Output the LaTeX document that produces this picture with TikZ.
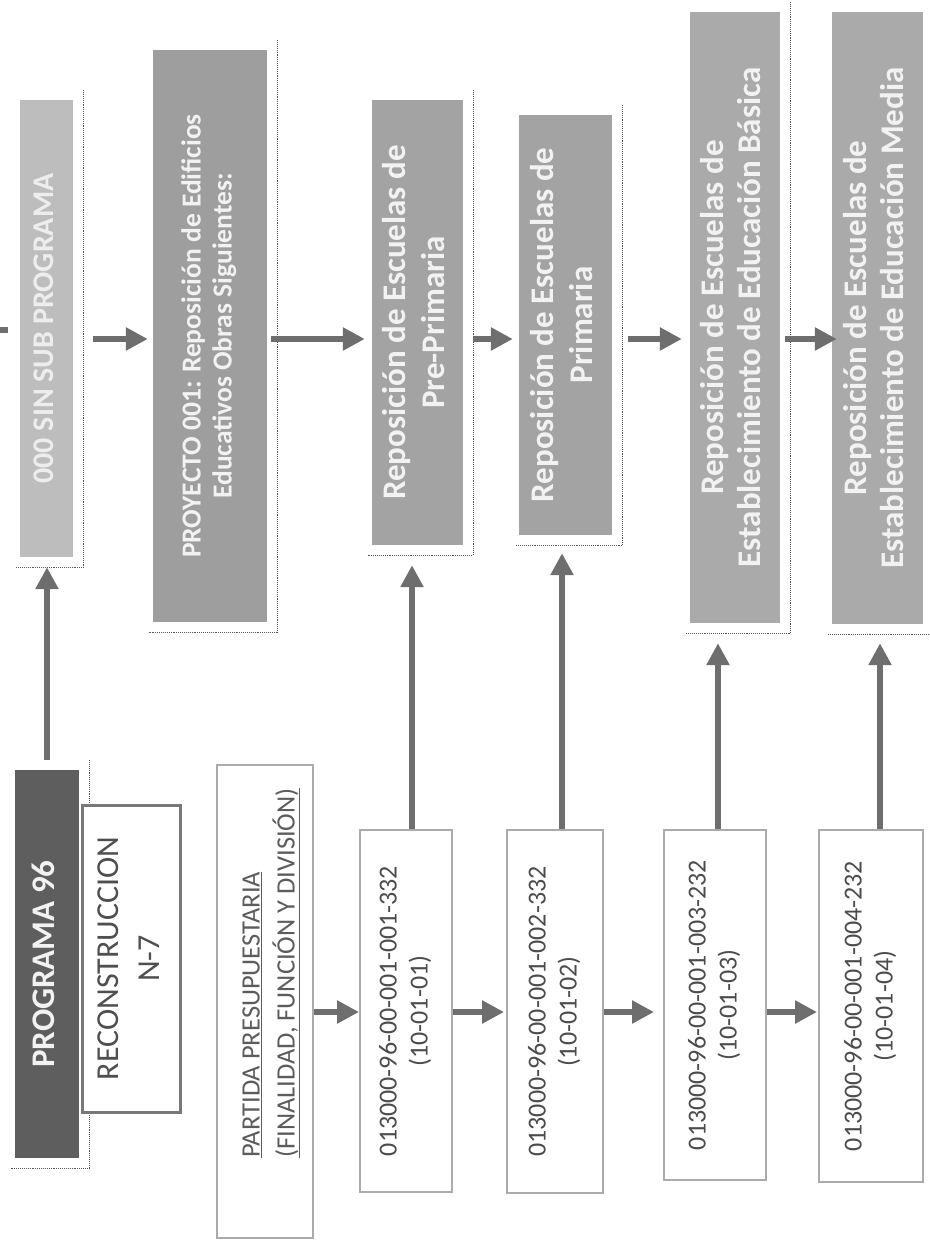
\documentclass[tikz,border=0pt]{standalone}
\usepackage{fontspec}
\setmainfont{Carlito}
\usetikzlibrary{arrows.meta,calc}
\definecolor{arrowgray}{HTML}{6E6E6E}
\definecolor{shadowgray}{HTML}{555555}
\definecolor{txtdark}{HTML}{4F4F4F}
\definecolor{txtlight}{HTML}{F2F2F2}
\definecolor{fdark}{HTML}{5E5E5E}
\definecolor{fsub}{HTML}{BDBDBD}
\definecolor{fmid}{HTML}{9E9E9E}
\definecolor{fbox}{HTML}{A3A3A3}
\definecolor{flight}{HTML}{AAAAAA}
\newcommand{\rtext}[2]{\rotatebox{90}{\begin{tabular}{@{}#1@{}}#2\end{tabular}}}
\begin{document}
\begin{tikzpicture}[x=1pt,y=-1pt,
  gbox/.style={rectangle, inner sep=0pt, draw=none, text=txtlight, font=\bfseries},
  wbox/.style={rectangle, inner sep=0pt, fill=white, text=txtdark},
  shadowline/.style={draw=shadowgray, line width=1.1pt, densely dotted},
  arr/.style={draw=arrowgray, line width=6pt, -{Triangle[width=22pt,length=22pt]}},
  vtext/.style={inner sep=0pt}
]
\useasboundingbox[fill=white] (0,0) rectangle (929,1249);

% ---------- top row (gray boxes) ----------
\node[gbox, fill=fsub, minimum width=53pt, minimum height=457pt,
      font=\bfseries\fontsize{30}{36}\selectfont, text=white!93!black] (sub) at (46.5,328.5)
      {\rtext{c}{000 SIN SUB PROGRAMA}};
\node[gbox, fill=fmid, minimum width=114pt, minimum height=572pt,
      font=\bfseries\fontsize{27.5}{31}\selectfont] (proj) at (210,336)
      {\rtext{c}{PROYECTO 001: Reposición de Edificios\\Educativos Obras Siguientes:}};
\node[gbox, fill=fbox, minimum width=91pt, minimum height=445pt,
      font=\bfseries\fontsize{33}{39}\selectfont] (pre) at (417.5,322.5)
      {\rtext{c}{Reposición de Escuelas de\\Pre-Primaria}};
\node[gbox, fill=fbox, minimum width=93pt, minimum height=420pt,
      font=\bfseries\fontsize{33}{39}\selectfont] (prim) at (565.5,325)
      {\rtext{c}{Reposición de Escuelas de\\Primaria}};
\node[gbox, fill=flight, minimum width=90pt, minimum height=611pt,
      font=\bfseries\fontsize{33}{37}\selectfont] (bas) at (735,317.5)
      {\rtext{c}{Reposición de Escuelas de\\Establecimiento de Educación Básica}};
\node[gbox, fill=flight, minimum width=91pt, minimum height=612pt,
      font=\bfseries\fontsize{33}{37}\selectfont] (med) at (877.5,318)
      {\rtext{c}{Reposición de Escuelas de\\Establecimiento de Educación Media}};

% ---------- left column ----------
\node[gbox, fill=fdark, minimum width=64pt, minimum height=388pt,
      font=\bfseries\fontsize{33}{39}\selectfont] (p96) at (47,964)
      {\rtext{c}{PROGRAMA 96}};

% shadow lines
\foreach \b in {sub,proj,pre,prim,bas,med,p96}{
  \draw[shadowline] ([shift={(10,-10)}]\b.north east) -- ([shift={(10,10)}]\b.south east)
                    -- ([shift={(-4,10)}]\b.south west);
}

\node[wbox, draw=black!53, line width=3pt, minimum width=98pt, minimum height=307pt,
      font=\fontsize{32}{41}\selectfont] (rec) at (131,958.5)
      {\rtext{c}{RECONSTRUCCION\\N-7}};

\node[wbox, draw=black!33, line width=2pt, minimum width=96pt, minimum height=473pt] (pa) at (265,1001.5) {};
\node[vtext, anchor=south, text=black!64, font=\fontsize{26.5}{35}\selectfont] (patxt) at (270,1158)
      {\rtext{l}{\underline{PARTIDA PRESUPUESTARIA}\\\underline{(FINALIDAD, FUNCIÓN Y DIVISIÓN)}}};

% ---------- code boxes ----------
\tikzset{cbox/.style={wbox, draw=black!33, line width=2pt, font=\fontsize{26}{31}\selectfont, text=black!70}}
\node[cbox, minimum width=92pt, minimum height=362pt] (c1) at (406,1011)
      {\rtext{c}{013000-96-00-001-001-332\\(10-01-01)}};
\node[cbox, minimum width=96pt, minimum height=363pt] (c2) at (555,1011.5)
      {\rtext{c}{013000-96-00-001-002-332\\(10-01-02)}};
\node[cbox, minimum width=102pt, minimum height=350pt] (c3) at (715,1005)
      {\rtext{c}{013000-96-00-001-003-232\\(10-01-03)}};
\node[cbox, minimum width=104pt, minimum height=352pt] (c4) at (871,1006)
      {\rtext{c}{013000-96-00-001-004-232\\(10-01-04)}};

% ---------- connectors ----------
\coordinate (toprow) at (0,339);
\coordinate (botrow) at (0,1012);
\draw[arr, shorten <=20pt, shorten >=5pt] (sub.east |- toprow) -- (proj.west |- toprow);
\draw[arr, shorten <=4pt, shorten >=7pt] (proj.east |- toprow) -- (pre.west |- toprow);
\draw[arr, shorten <=10pt, shorten >=6pt] (pre.east |- toprow) -- (prim.west |- toprow);
\draw[arr, shorten <=16pt, shorten >=8pt] (prim.east |- toprow) -- (bas.west |- toprow);
\draw[arr, shorten <=5pt, shorten >=-5pt] (bas.east |- toprow) -- (med.west |- toprow);

\draw[arr] (pa.east |- botrow) -- (c1.west |- botrow);
\draw[arr, shorten >=2pt] (c1.east |- botrow) -- (c2.west |- botrow);
\draw[arr, shorten >=9pt] (c2.east |- botrow) -- (c3.west |- botrow);
\draw[arr, shorten >=1pt] (c3.east |- botrow) -- (c4.west |- botrow);

\draw[arr, shorten <=10pt, shorten >=10pt] (p96.north) -- (p96.north |- sub.south);
\draw[arr, shorten >=20pt] ([xshift=6pt]c1.north) -- ([xshift=6pt]c1.north |- pre.south);
\draw[arr, shorten >=18pt] ([xshift=7pt]c2.north) -- ([xshift=7pt]c2.north |- prim.south);
\draw[arr, shorten >=20pt] ([xshift=3pt]c3.north) -- ([xshift=3pt]c3.north |- bas.south);
\draw[arr, shorten >=19pt] ([xshift=9pt]c4.north) -- ([xshift=9pt]c4.north |- med.south);

% clipped fragment at the left edge
\coordinate (edge) at (0,330);
\draw[draw=arrowgray, line width=6pt] (edge) -- ++(8,0);
\end{tikzpicture}
\end{document}
